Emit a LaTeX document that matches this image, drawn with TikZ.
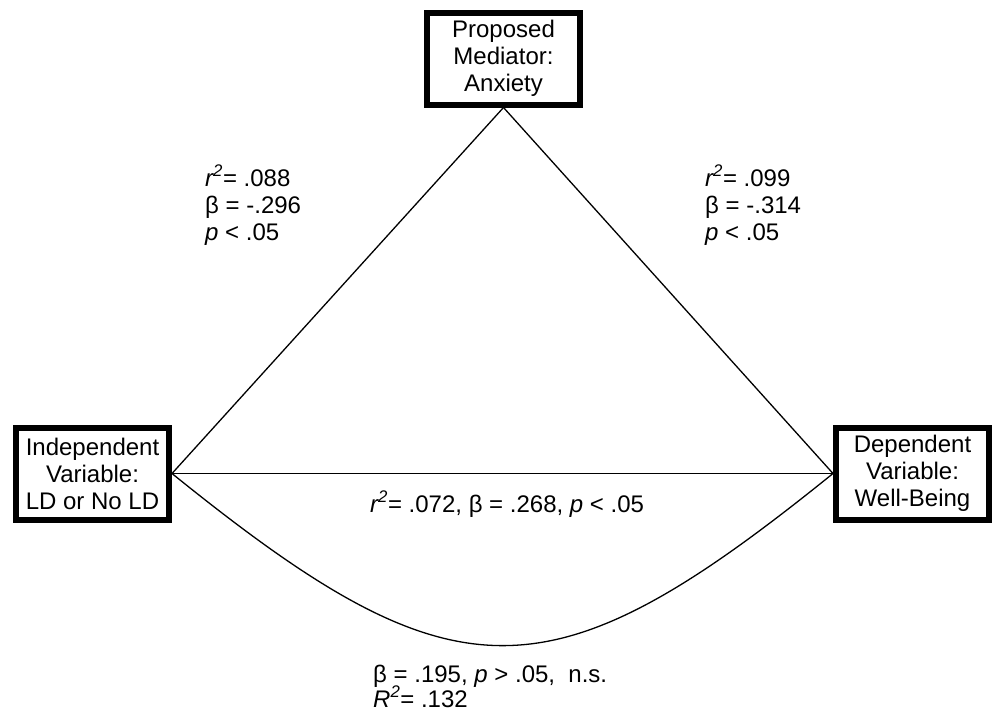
\documentclass[tikz,border=0pt]{standalone}
\usepackage{fontspec}
\setmainfont{Liberation Sans}
\begin{document}
\begin{tikzpicture}[x=1pt,y=-1pt,
  box/.style={draw=black, line width=6pt, fill=white, minimum width=153pt, minimum height=92pt, align=center, inner sep=0pt, font=\fontsize{24}{27}\selectfont},
  lbl/.style={anchor=base west, inner sep=0pt, font=\fontsize{24}{27}\selectfont},
  conn/.style={line width=1.3pt, black}]
\useasboundingbox (0,0) rectangle (994,712);
\node[box] (med) at (503.5,58.5) {Proposed\\Mediator:\\Anxiety};
\node[box] (iv) at (92.5,473.5) {Independent\\Variable:\\LD or No LD};
\node[box] (dv) at (912.5,473.5) {Dependent\\Variable:\\Well-Being};
\draw[conn] (med.south) -- (iv.east);
\draw[conn] (med.south) -- (dv.west);
\draw[conn] (iv.east) -- (dv.west);
\draw[conn] (iv.east) .. controls (456,703) and (549,703) .. (dv.west);
\node[lbl] (a1) at (205,186) {\textit{r\textsuperscript{2}}= .088};
\node[lbl] (a2) at (205,213) {β = -.296};
\node[lbl] (a3) at (205,240) {\textit{p} < .05};
\node[lbl] (b1) at (705,186) {\textit{r\textsuperscript{2}}= .099};
\node[lbl] (b2) at (705,213) {β = -.314};
\node[lbl] (b3) at (705,240) {\textit{p} < .05};
\node[lbl] (c1) at (370,512) {\textit{r\textsuperscript{2}}= .072, β = .268, \textit{p} < .05};
\node[lbl] (d1) at (373,682) {β = .195, \textit{p} > .05, \ n.s.};
\node[lbl] (d2) at (373,707) {\textit{R\textsuperscript{2}}= .132};
\end{tikzpicture}
\end{document}
